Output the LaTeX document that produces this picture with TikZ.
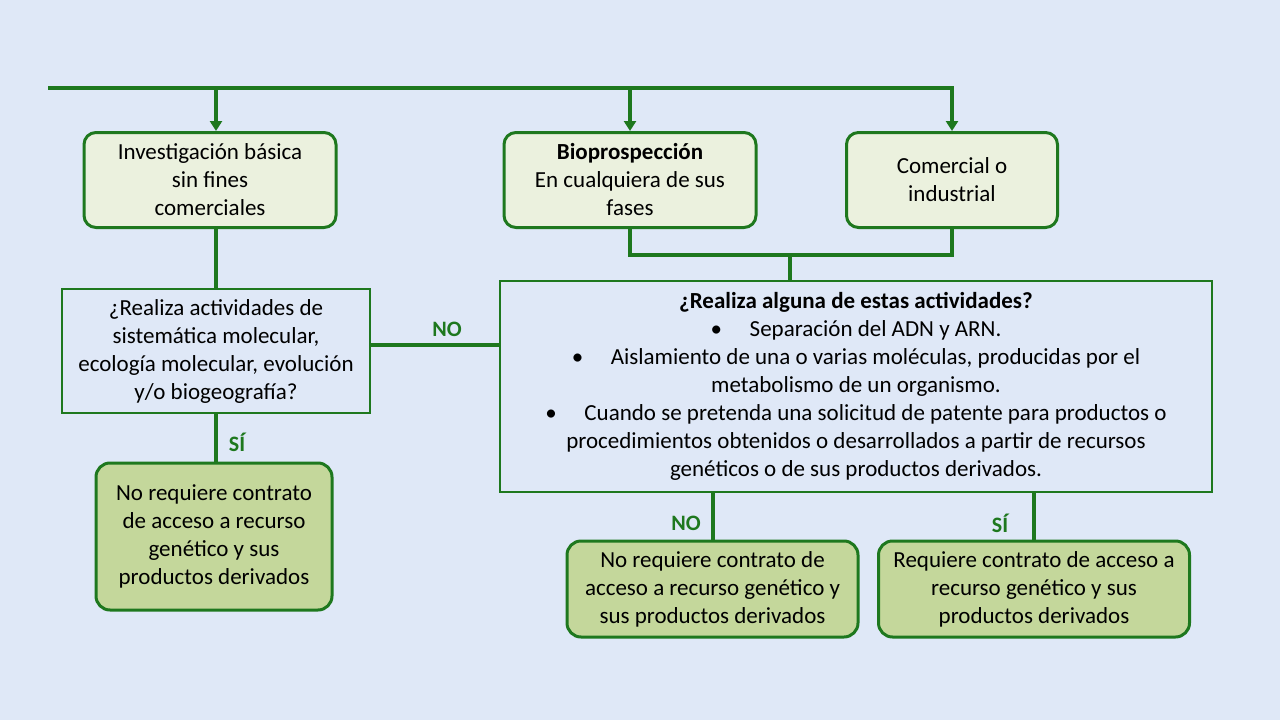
\documentclass[tikz,border=0pt]{standalone}
\usepackage{fontspec}
\setmainfont{Carlito}
\usetikzlibrary{arrows.meta,positioning}
\definecolor{FlowBack}{HTML}{DFE8F7}
\definecolor{FlowGreen}{HTML}{1E781E}
\definecolor{FlowLight}{HTML}{EBF1DE}
\definecolor{FlowOlive}{HTML}{C4D79B}
\newcommand{\bul}{\textbullet\hspace{1.2em}}

\begin{document}
\begin{tikzpicture}[x=1pt,y=-1pt]
    \tikzset{entrybox/.style={rounded corners=12pt,draw=FlowGreen,line width=3pt,fill=FlowLight,
      align=center,inner sep=0pt,font=\fontsize{23}{28}\selectfont},
      askbox/.style={draw=FlowGreen,line width=1.4pt,fill=FlowBack,align=center,inner sep=0pt,
      font=\fontsize{23}{28}\selectfont},
      resultbox/.style={rounded corners=14pt,draw=FlowGreen,line width=3pt,fill=FlowOlive,
      align=center,inner sep=0pt,font=\fontsize{23}{28}\selectfont},
      flowline/.style={draw=FlowGreen,line width=4pt},
      branchtag/.style={text=FlowGreen,font=\fontsize{22}{24}\selectfont\bfseries}}
    \fill[FlowBack] (0,0) rectangle (1280,720);
    \useasboundingbox (0,0) rectangle (1280,720);
    % entry boxes
    \node[entrybox,minimum width=252pt,minimum height=95pt] (inv) at (210,180)
      {Investigación básica\\sin fines\\comerciales};
    \node[entrybox,minimum width=252pt,minimum height=95pt] (bio) at (630,180)
      {\textbf{Bioprospección}\\En cualquiera de sus\\fases};
    \node[entrybox,minimum width=211pt,minimum height=95pt] (com) at (952,180)
      {Comercial o\\industrial};
    % questions
    \node[askbox,minimum width=308pt,minimum height=124pt] (ask1) at (216,351)
      {¿Realiza actividades de\\sistemática molecular,\\ecología molecular, evolución\\y/o biogeografía?};
    \node[askbox,minimum width=712pt,minimum height=211pt] (ask2) at (856,386.5)
      {\textbf{¿Realiza alguna de estas actividades?}\\
       \bul Separación del ADN y ARN.\\
       \bul Aislamiento de una o varias moléculas, producidas por el\\
       metabolismo de un organismo.\\
       \bul Cuando se pretenda una solicitud de patente para productos o\\
       procedimientos obtenidos o desarrollados a partir de recursos\\
       genéticos o de sus productos derivados.};
    % results
    \node[resultbox,minimum width=236pt,minimum height=147pt] (res1) at (214,536.5)
      {No requiere contrato\\de acceso a recurso\\genético y sus\\productos derivados};
    \node[resultbox,minimum width=291pt,minimum height=96pt] (res2) at (712.5,589)
      {No requiere contrato de\\acceso a recurso genético y\\sus productos derivados};
    \node[resultbox,minimum width=311pt,minimum height=96pt] (res3) at (1034,589)
      {Requiere contrato de acceso a\\recurso genético y sus\\productos derivados};
    % connectors
    \coordinate (rail) at (48,88);
    \coordinate (merge) at (790,255);
    \draw[flowline,-{Triangle[width=12pt,length=10pt]}] (rail) -| (com.north);
    \draw[flowline,-{Triangle[width=12pt,length=10pt]}] (ask1.north |- rail) -- (ask1.north |- inv.north);
    \draw[flowline,-{Triangle[width=12pt,length=10pt]}] (bio.north |- rail) -- (bio.north);
    \draw[flowline] (bio.south) |- (merge) -| (com.south);
    \draw[flowline] (merge) -- (merge |- ask2.north);
    \draw[flowline] (ask1.north |- inv.south) -- (ask1.north);
    \draw[flowline] (ask1.east) ++(0,-6) -- (ask2.west |- 0,345);
    \draw[flowline] (ask1.south) -- (ask1.south |- res1.north);
    \draw[flowline] (res2.north |- ask2.south) -- (res2.north);
    \draw[flowline] (res3.north |- ask2.south) -- (res3.north);
    % branch labels
    \node[branchtag] (tagno1) at (447,329) {NO};
    \node[branchtag] (tagsi1) at (237,442) {SÍ};
    \node[branchtag] (tagno2) at (686,523) {NO};
    \node[branchtag] (tagsi2) at (1000,523) {SÍ};
  \end{tikzpicture}
\end{document}
